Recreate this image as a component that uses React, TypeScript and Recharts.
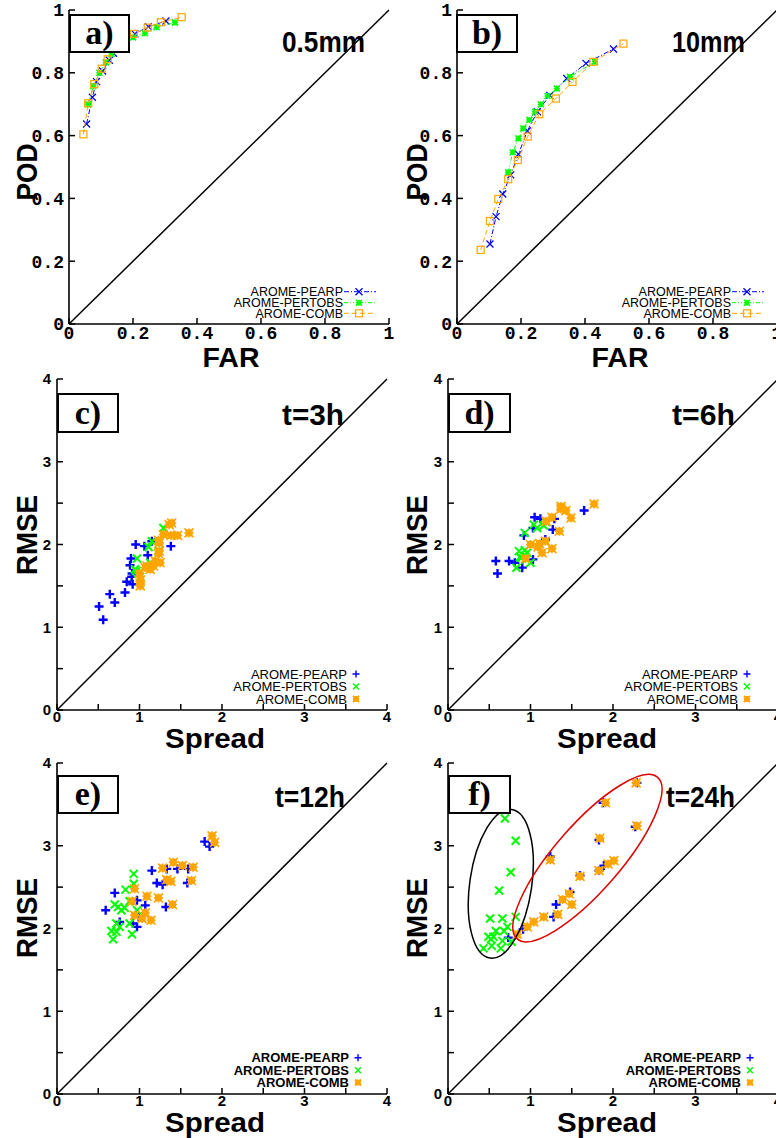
import React from 'react';
import { ScatterChart, Scatter, XAxis, YAxis, ReferenceLine, ReferenceDot } from 'recharts';

const BLUE = '#0000ff';
const GREEN = '#00ff00';
const ORANGE = '#ffa500';

const seriesNames = ['AROME-PEARP', 'AROME-PERTOBS', 'AROME-COMB'];

const rocTicks = [0, 0.2, 0.4, 0.6, 0.8, 1];
const spreadTicks = [0, 0.5, 1, 1.5, 2, 2.5, 3, 3.5, 4];

// a) POD / FAR, threshold 0.5mm
const rocA_pearp = [
  { x: 0.055, y: 0.637 }, { x: 0.073, y: 0.722 }, { x: 0.086, y: 0.772 }, { x: 0.105, y: 0.806 },
  { x: 0.126, y: 0.84 }, { x: 0.139, y: 0.862 }, { x: 0.206, y: 0.924 }, { x: 0.248, y: 0.947 },
  { x: 0.303, y: 0.965 },
];
const rocA_pertobs = [
  { x: 0.06, y: 0.7 }, { x: 0.076, y: 0.758 }, { x: 0.095, y: 0.8 }, { x: 0.115, y: 0.833 },
  { x: 0.133, y: 0.86 }, { x: 0.2, y: 0.913 }, { x: 0.237, y: 0.926 }, { x: 0.274, y: 0.945 },
  { x: 0.331, y: 0.96 },
];
const rocA_comb = [
  { x: 0.045, y: 0.604 }, { x: 0.06, y: 0.703 }, { x: 0.079, y: 0.764 }, { x: 0.102, y: 0.813 },
  { x: 0.121, y: 0.843 }, { x: 0.203, y: 0.924 }, { x: 0.246, y: 0.944 }, { x: 0.287, y: 0.961 },
  { x: 0.352, y: 0.977 },
];

// b) POD / FAR, threshold 10mm
const rocB_pearp = [
  { x: 0.103, y: 0.255 }, { x: 0.122, y: 0.342 }, { x: 0.143, y: 0.414 }, { x: 0.168, y: 0.475 },
  { x: 0.192, y: 0.541 }, { x: 0.22, y: 0.615 }, { x: 0.251, y: 0.676 }, { x: 0.29, y: 0.728 },
  { x: 0.343, y: 0.782 }, { x: 0.403, y: 0.83 }, { x: 0.489, y: 0.876 },
];
const rocB_pertobs = [
  { x: 0.16, y: 0.483 }, { x: 0.174, y: 0.547 }, { x: 0.192, y: 0.591 }, { x: 0.207, y: 0.623 },
  { x: 0.226, y: 0.65 }, { x: 0.244, y: 0.676 }, { x: 0.262, y: 0.7 }, { x: 0.283, y: 0.726 },
  { x: 0.312, y: 0.75 }, { x: 0.353, y: 0.787 }, { x: 0.431, y: 0.835 },
];
const rocB_comb = [
  { x: 0.074, y: 0.236 }, { x: 0.103, y: 0.328 }, { x: 0.129, y: 0.398 }, { x: 0.16, y: 0.461 },
  { x: 0.19, y: 0.522 }, { x: 0.221, y: 0.597 }, { x: 0.257, y: 0.668 }, { x: 0.309, y: 0.718 },
  { x: 0.361, y: 0.771 }, { x: 0.426, y: 0.835 }, { x: 0.52, y: 0.893 },
];

// c) RMSE / spread, t=3h
const c_pearp = [
  { x: 0.954, y: 2.0 }, { x: 1.06, y: 1.98 }, { x: 1.38, y: 1.98 }, { x: 0.897, y: 1.83 },
  { x: 1.1, y: 1.87 }, { x: 0.885, y: 1.75 }, { x: 0.91, y: 1.65 }, { x: 0.905, y: 1.61 },
  { x: 0.845, y: 1.55 }, { x: 0.917, y: 1.52 }, { x: 0.64, y: 1.4 }, { x: 0.824, y: 1.42 },
  { x: 0.7, y: 1.3 }, { x: 0.51, y: 1.25 }, { x: 0.56, y: 1.09 }, { x: 1.15, y: 2.04 },
];
const c_pertobs = [
  { x: 1.29, y: 2.2 }, { x: 1.15, y: 2.04 }, { x: 1.11, y: 1.97 }, { x: 0.97, y: 1.83 },
  { x: 1.23, y: 1.92 }, { x: 1.13, y: 1.78 }, { x: 0.945, y: 1.7 }, { x: 0.985, y: 1.65 },
  { x: 1.006, y: 1.61 }, { x: 0.96, y: 1.68 },
];
const c_comb = [
  { x: 1.39, y: 2.26 }, { x: 1.36, y: 2.24 }, { x: 1.29, y: 2.12 }, { x: 1.38, y: 2.11 },
  { x: 1.46, y: 2.11 }, { x: 1.6, y: 2.14 }, { x: 1.23, y: 2.05 }, { x: 1.24, y: 2.02 },
  { x: 1.24, y: 1.92 }, { x: 1.23, y: 1.89 }, { x: 1.25, y: 1.78 }, { x: 1.19, y: 1.8 },
  { x: 1.17, y: 1.74 }, { x: 1.09, y: 1.74 }, { x: 1.13, y: 1.7 }, { x: 1.07, y: 1.72 },
  { x: 1.01, y: 1.57 }, { x: 1.01, y: 1.5 }, { x: 1.0, y: 1.65 },
];

// d) t=6h
const d_pearp = [
  { x: 0.58, y: 1.8 }, { x: 0.6, y: 1.65 }, { x: 0.74, y: 1.8 }, { x: 0.81, y: 1.78 },
  { x: 0.9, y: 1.72 }, { x: 1.03, y: 1.82 }, { x: 0.92, y: 2.11 }, { x: 1.05, y: 2.33 },
  { x: 1.12, y: 2.31 }, { x: 1.03, y: 2.2 }, { x: 1.27, y: 2.18 }, { x: 1.29, y: 2.31 },
  { x: 1.65, y: 2.41 }, { x: 1.18, y: 2.06 },
];
const d_pertobs = [
  { x: 0.93, y: 2.14 }, { x: 1.04, y: 2.24 }, { x: 1.08, y: 2.2 }, { x: 1.16, y: 2.23 },
  { x: 1.19, y: 2.27 }, { x: 0.86, y: 1.92 }, { x: 0.93, y: 1.93 }, { x: 0.96, y: 1.9 },
  { x: 0.87, y: 1.85 }, { x: 0.89, y: 1.84 }, { x: 0.95, y: 1.82 }, { x: 1.0, y: 1.78 },
  { x: 0.83, y: 1.72 },
];
const d_comb = [
  { x: 1.37, y: 2.46 }, { x: 1.37, y: 2.43 }, { x: 1.43, y: 2.41 }, { x: 1.49, y: 2.32 },
  { x: 1.77, y: 2.49 }, { x: 1.26, y: 2.33 }, { x: 1.19, y: 2.28 }, { x: 1.35, y: 2.16 },
  { x: 1.18, y: 2.04 }, { x: 1.11, y: 2.01 }, { x: 1.0, y: 2.0 }, { x: 1.09, y: 1.97 },
  { x: 1.26, y: 1.95 }, { x: 1.14, y: 1.9 }, { x: 0.94, y: 1.83 },
];

// e) t=12h
const e_pearp = [
  { x: 1.79, y: 3.05 }, { x: 1.85, y: 2.99 }, { x: 1.15, y: 2.7 }, { x: 1.33, y: 2.72 },
  { x: 1.46, y: 2.72 }, { x: 1.59, y: 2.72 }, { x: 1.21, y: 2.55 }, { x: 1.28, y: 2.53 },
  { x: 1.58, y: 2.55 }, { x: 0.7, y: 2.43 }, { x: 0.97, y: 2.34 }, { x: 1.07, y: 2.28 },
  { x: 1.32, y: 2.26 }, { x: 0.59, y: 2.22 }, { x: 0.99, y: 2.14 }, { x: 0.76, y: 2.08 },
  { x: 0.92, y: 2.06 }, { x: 0.97, y: 2.02 },
];
const e_pertobs = [
  { x: 0.93, y: 2.66 }, { x: 0.93, y: 2.54 }, { x: 0.83, y: 2.47 }, { x: 0.7, y: 2.29 },
  { x: 0.74, y: 2.26 }, { x: 0.78, y: 2.22 }, { x: 0.82, y: 2.25 }, { x: 0.97, y: 2.22 },
  { x: 0.88, y: 2.33 }, { x: 0.72, y: 2.06 }, { x: 0.76, y: 2.02 }, { x: 0.66, y: 1.97 },
  { x: 0.72, y: 1.96 }, { x: 0.88, y: 2.06 }, { x: 0.91, y: 1.93 }, { x: 0.68, y: 1.87 },
];
const e_comb = [
  { x: 1.88, y: 3.12 }, { x: 1.91, y: 3.04 }, { x: 1.28, y: 2.73 }, { x: 1.41, y: 2.8 },
  { x: 1.52, y: 2.76 }, { x: 1.65, y: 2.74 }, { x: 1.33, y: 2.59 }, { x: 1.38, y: 2.57 },
  { x: 1.63, y: 2.58 }, { x: 0.94, y: 2.48 }, { x: 1.09, y: 2.39 }, { x: 1.23, y: 2.37 },
  { x: 0.91, y: 2.33 }, { x: 1.4, y: 2.29 }, { x: 1.07, y: 2.19 }, { x: 0.94, y: 2.16 },
  { x: 1.03, y: 2.12 }, { x: 1.14, y: 2.1 },
];

// f) t=24h
const f_pearp = [
  { x: 0.73, y: 1.89 }, { x: 0.91, y: 1.99 }, { x: 1.24, y: 2.87 }, { x: 1.31, y: 2.29 },
  { x: 1.28, y: 2.14 }, { x: 1.48, y: 2.44 }, { x: 1.6, y: 2.64 }, { x: 1.83, y: 3.07 },
  { x: 1.88, y: 3.52 }, { x: 1.83, y: 2.7 }, { x: 1.89, y: 2.76 }, { x: 2.27, y: 3.23 },
  { x: 2.29, y: 3.76 },
];
const f_pertobs = [
  { x: 0.69, y: 3.33 }, { x: 0.82, y: 3.06 }, { x: 0.76, y: 2.68 }, { x: 0.62, y: 2.46 },
  { x: 0.51, y: 2.12 }, { x: 0.66, y: 2.12 }, { x: 0.82, y: 2.14 }, { x: 0.72, y: 2.02 },
  { x: 0.58, y: 1.97 }, { x: 0.68, y: 1.97 }, { x: 0.49, y: 1.9 }, { x: 0.55, y: 1.9 },
  { x: 0.52, y: 1.87 }, { x: 0.66, y: 1.85 }, { x: 0.77, y: 1.84 }, { x: 0.43, y: 1.76 },
  { x: 0.53, y: 1.79 }, { x: 0.64, y: 1.76 },
];
const f_comb = [
  { x: 0.84, y: 1.93 }, { x: 0.96, y: 2.02 }, { x: 1.04, y: 2.08 }, { x: 1.16, y: 2.14 },
  { x: 1.33, y: 2.17 }, { x: 1.24, y: 2.83 }, { x: 1.5, y: 2.29 }, { x: 1.39, y: 2.35 },
  { x: 1.47, y: 2.42 }, { x: 1.6, y: 2.63 }, { x: 1.84, y: 3.09 }, { x: 1.91, y: 3.52 },
  { x: 1.83, y: 2.7 }, { x: 1.94, y: 2.78 }, { x: 2.01, y: 2.82 }, { x: 2.29, y: 3.24 },
  { x: 2.28, y: 3.76 },
];
// centres of the two groups circled in f)
const groupCentres = [
  { x: 0.64, y: 2.54 },
  { x: 1.69, y: 2.85 },
];

const TICK = 6;
const AXIS = { stroke: '#000', strokeWidth: 1.6 };
const MONO = { fontFamily: '"Liberation Mono", "DejaVu Sans Mono", monospace', fontWeight: 700, fontSize: 18 };
const SANS_B = { fontFamily: '"Liberation Sans", Arial, sans-serif', fontWeight: 700, fontSize: 15 };

const rocFmt = (v: number) => (v === 0 ? '0' : v === 1 ? '1' : v.toFixed(1));
const intFmt = (v: number) => (Number.isInteger(v) ? String(v) : null);

const bottomTick = (fmt: (v: number) => string | null, font: any, dy: number) => (p: any) => {
  const label = fmt(p.payload.value);
  return (
    <g>
      <line x1={p.x} x2={p.x} y1={p.y} y2={p.y - TICK} stroke="#000" strokeWidth={1.5} />
      {label !== null && (
        <text x={p.x} y={p.y + dy} textAnchor="middle" fill="#000" style={font}>{label}</text>
      )}
    </g>
  );
};

const leftTick = (fmt: (v: number) => string | null, font: any, gap: number) => (p: any) => {
  const label = fmt(p.payload.value);
  return (
    <g>
      <line x1={p.x} x2={p.x + TICK} y1={p.y} y2={p.y} stroke="#000" strokeWidth={1.5} />
      {label !== null && (
        <text x={p.x - gap} y={p.y} dy="0.36em" textAnchor="end" fill="#000" style={font}>{label}</text>
      )}
    </g>
  );
};

// markers
const crossMark = (color: string, r: number, w: number) => (p: any) => (
  <path d={`M${p.cx - r},${p.cy - r}L${p.cx + r},${p.cy + r}M${p.cx - r},${p.cy + r}L${p.cx + r},${p.cy - r}`}
    stroke={color} strokeWidth={w} fill="none" />
);
const plusMark = (color: string, r: number, w: number) => (p: any) => (
  <path d={`M${p.cx - r},${p.cy}L${p.cx + r},${p.cy}M${p.cx},${p.cy - r}L${p.cx},${p.cy + r}`}
    stroke={color} strokeWidth={w} fill="none" />
);
const starMark = (color: string, r: number, w: number) => (p: any) => (
  <path d={`M${p.cx - r},${p.cy}L${p.cx + r},${p.cy}M${p.cx},${p.cy - r}L${p.cx},${p.cy + r}M${p.cx - r},${p.cy - r}L${p.cx + r},${p.cy + r}M${p.cx - r},${p.cy + r}L${p.cx + r},${p.cy - r}`}
    stroke={color} strokeWidth={w} fill="none" />
);
const squareMark = (color: string, r: number, w: number) => (p: any) => (
  <rect x={p.cx - r} y={p.cy - r} width={2 * r} height={2 * r} stroke={color} strokeWidth={w} fill="none" />
);
const blobMark = (color: string, r: number) => (p: any) => (
  <g>
    <rect x={p.cx - r + 1} y={p.cy - r + 1} width={2 * r - 2} height={2 * r - 2} fill={color} />
    {starMark(color, r, 1.6)(p)}
  </g>
);

const rocLine = [
  { color: BLUE, dash: '5 2 1 2' },
  { color: GREEN, dash: '4 2 1 2 1 2' },
  { color: ORANGE, dash: '5 3' },
];
const rocMarks = [crossMark(BLUE, 3.5, 1.3), starMark(GREEN, 3, 1.6), squareMark(ORANGE, 3.5, 1.2)];
const sprMarks = [plusMark(BLUE, 4.5, 2.4), crossMark(GREEN, 4, 2), blobMark(ORANGE, 4.5)];

// room around the plot box so edge tick labels are not clipped
const PAD_TOP = 12;
const PAD_RIGHT = 14;

function Panel(props: any) {
  const { plotLeft, plotTop, plotW, plotH, yW, xH, domain, ticks, fmt, font, xDy, yGap, children } = props;
  const width = yW + plotW + PAD_RIGHT;
  const height = PAD_TOP + plotH + xH;
  return (
    <div style={{ position: 'absolute', left: plotLeft - yW, top: plotTop - PAD_TOP }}>
      <ScatterChart width={width} height={height} margin={{ top: PAD_TOP, right: PAD_RIGHT, bottom: 0, left: 0 }}>
        <XAxis xAxisId={0} type="number" dataKey="x" domain={domain} ticks={ticks} interval={0}
          allowDataOverflow height={xH} tickSize={0} tickMargin={0} tickLine={false} axisLine={AXIS}
          tick={bottomTick(fmt, font, xDy)} />
        <XAxis xAxisId="top" orientation="top" mirror type="number" domain={domain} ticks={ticks}
          interval={0} allowDataOverflow height={0} tick={false} tickSize={TICK}
          tickLine={{ stroke: '#000', strokeWidth: 1.5 }} axisLine={AXIS} />
        <YAxis yAxisId={0} type="number" dataKey="y" domain={domain} ticks={ticks} interval={0}
          allowDataOverflow width={yW} tickSize={0} tickMargin={0} tickLine={false} axisLine={AXIS}
          tick={leftTick(fmt, font, yGap)} />
        <YAxis yAxisId="right" orientation="right" mirror type="number" domain={domain} ticks={ticks}
          interval={0} allowDataOverflow width={0} tick={false} tickSize={TICK}
          tickLine={{ stroke: '#000', strokeWidth: 1.5 }} axisLine={AXIS} />
        <ReferenceLine segment={[{ x: domain[0], y: domain[0] }, { x: domain[1], y: domain[1] }]}
          stroke="#000" strokeWidth={1.5} ifOverflow="visible" />
        {children}
      </ScatterChart>
    </div>
  );
}

function RocPanel({ plotLeft, series }: any) {
  return (
    <Panel plotLeft={plotLeft} plotTop={10} plotW={320} plotH={314} yW={69} xH={30}
      domain={[0, 1]} ticks={rocTicks} fmt={rocFmt} font={MONO} xDy={15} yGap={5}>
      {series.map((d: any, i: number) => (
        <Scatter key={seriesNames[i]} name={seriesNames[i]} data={d} isAnimationActive={false}
          shape={rocMarks[i]}
          line={{ stroke: rocLine[i].color, strokeWidth: 1, strokeDasharray: rocLine[i].dash }} />
      ))}
    </Panel>
  );
}

function SpreadPanel({ plotLeft, plotTop, series, extra }: any) {
  return (
    <Panel plotLeft={plotLeft} plotTop={plotTop} plotW={330} plotH={331} yW={57} xH={22}
      domain={[0, 4]} ticks={spreadTicks} fmt={intFmt} font={SANS_B} xDy={12} yGap={6}>
      {series.map((d: any, i: number) => (
        <Scatter key={seriesNames[i]} name={seriesNames[i]} data={d} isAnimationActive={false}
          shape={sprMarks[i]} />
      ))}
      {extra}
    </Panel>
  );
}

const SANS = '"Liberation Sans", Arial, Helvetica, sans-serif';

function LabelBox({ x, y, w, h, text }: any) {
  return (
    <g>
      <rect x={x} y={y} width={w} height={h} fill="#fff" stroke="#000" strokeWidth={2} />
      <text x={x + w / 2} y={y + h - 8} textAnchor="middle" fill="#000"
        style={{ fontFamily: '"Liberation Serif", "Times New Roman", serif', fontWeight: 700, fontSize: 34 }}>
        {text}
      </text>
    </g>
  );
}

function Title({ x, y, w, text }: any) {
  return (
    <text x={x} y={y} textLength={w} lengthAdjust="spacingAndGlyphs" fill="#000"
      style={{ fontFamily: SANS, fontWeight: 700, fontSize: 30 }}>{text}</text>
  );
}

function XTitle({ cx, y, w, text }: any) {
  return (
    <text x={cx - w / 2} y={y} textLength={w} lengthAdjust="spacingAndGlyphs" fill="#000"
      style={{ fontFamily: SANS, fontWeight: 700, fontSize: 28 }}>{text}</text>
  );
}

function YTitle({ x, cy, w, text }: any) {
  return (
    <text x={x} y={cy + w / 2} transform={`rotate(-90 ${x} ${cy + w / 2})`} textLength={w}
      lengthAdjust="spacingAndGlyphs" fill="#000"
      style={{ fontFamily: SANS, fontWeight: 700, fontSize: 30 }}>{text}</text>
  );
}

function RocLegend({ right, rows }: any) {
  return (
    <g>
      {seriesNames.map((n, i) => (
        <g key={n}>
          <text x={right} y={rows[i] + 4.3} textAnchor="end" fill="#000"
            style={{ fontFamily: SANS, fontSize: 12.5 }}>{n}</text>
          <line x1={right + 1} x2={right + 33} y1={rows[i]} y2={rows[i]} stroke={rocLine[i].color}
            strokeWidth={1} strokeDasharray={rocLine[i].dash} />
          {rocMarks[i]({ cx: right + 16, cy: rows[i] })}
        </g>
      ))}
    </g>
  );
}

const legendMarks = [plusMark(BLUE, 3.5, 1.4), crossMark(GREEN, 3, 1.4), starMark(ORANGE, 3, 2)];

function SpreadLegend({ right, rows, bold }: any) {
  return (
    <g>
      {seriesNames.map((n, i) => (
        <g key={n}>
          <text x={right} y={rows[i] + 4.7} textAnchor="end" fill="#000"
            style={{ fontFamily: SANS, fontSize: 13, fontWeight: bold ? 700 : 400 }}>{n}</text>
          {legendMarks[i]({ cx: right + 9, cy: rows[i] })}
        </g>
      ))}
    </g>
  );
}

const ellipseShape = (rx: number, ry: number, angle: number, color: string) => (p: any) => (
  <ellipse cx={p.cx} cy={p.cy} rx={rx} ry={ry} transform={`rotate(${angle} ${p.cx} ${p.cy})`}
    fill="none" stroke={color} strokeWidth={1.5} />
);

export default function App() {
  const ellipses = [
    <ReferenceDot key="g1" x={groupCentres[0].x} y={groupCentres[0].y} r={1} ifOverflow="visible"
      shape={ellipseShape(31, 75, 8.3, '#000')} />,
    <ReferenceDot key="g2" x={groupCentres[1].x} y={groupCentres[1].y} r={1} ifOverflow="visible"
      shape={ellipseShape(107, 33, -49, '#e00000')} />,
  ];
  return (
    <div style={{ position: 'absolute', left: 0, top: 0, width: 776, height: 1138, overflow: 'hidden', background: '#fff' }}>
      <RocPanel plotLeft={69} series={[rocA_pearp, rocA_pertobs, rocA_comb]} />
      <RocPanel plotLeft={457} series={[rocB_pearp, rocB_pertobs, rocB_comb]} />
      <SpreadPanel plotLeft={57} plotTop={379} series={[c_pearp, c_pertobs, c_comb]} />
      <SpreadPanel plotLeft={448} plotTop={379} series={[d_pearp, d_pertobs, d_comb]} />
      <SpreadPanel plotLeft={57} plotTop={763} series={[e_pearp, e_pertobs, e_comb]} />
      <SpreadPanel plotLeft={448} plotTop={763} series={[f_pearp, f_pertobs, f_comb]} extra={ellipses} />

      <svg width={776} height={1138} style={{ position: 'absolute', left: 0, top: 0, pointerEvents: 'none' }}>
        <LabelBox x={70} y={15} w={59} h={37} text="a)" />
        <LabelBox x={457} y={15} w={60} h={37} text="b)" />
        <LabelBox x={58} y={394} w={60} h={38} text="c)" />
        <LabelBox x={449} y={394} w={61} h={38} text="d)" />
        <LabelBox x={58} y={776} w={60} h={37} text="e)" />
        <LabelBox x={449} y={776} w={61} h={37} text="f)" />

        <Title x={282} y={52} w={83} text="0.5mm" />
        <Title x={672} y={52} w={73} text="10mm" />
        <Title x={282} y={425} w={62} text="t=3h" />
        <Title x={672} y={425} w={63} text="t=6h" />
        <Title x={275} y={807} w={70} text="t=12h" />
        <Title x={666} y={807} w={69} text="t=24h" />

        <YTitle x={37} cy={172} w={57} text="POD" />
        <YTitle x={427} cy={172} w={57} text="POD" />
        <XTitle cx={231} y={367} w={57} text="FAR" />
        <XTitle cx={620} y={367} w={57} text="FAR" />
        <YTitle x={37} cy={535} w={80} text="RMSE" />
        <YTitle x={427} cy={535} w={80} text="RMSE" />
        <YTitle x={37} cy={918} w={80} text="RMSE" />
        <YTitle x={427} cy={918} w={80} text="RMSE" />
        <XTitle cx={215} y={748} w={100} text="Spread" />
        <XTitle cx={607} y={748} w={100} text="Spread" />
        <XTitle cx={215} y={1132} w={100} text="Spread" />
        <XTitle cx={607} y={1132} w={100} text="Spread" />

        <RocLegend right={343} rows={[291.7, 302.7, 313.3]} />
        <RocLegend right={731} rows={[291.7, 302.7, 313.3]} />
        <SpreadLegend right={347} rows={[674, 686.5, 699]} />
        <SpreadLegend right={738} rows={[674, 686.5, 699]} />
        <SpreadLegend right={349} rows={[1057.7, 1070.3, 1082.5]} bold />
        <SpreadLegend right={741} rows={[1057.7, 1070.3, 1082.5]} bold />
      </svg>
    </div>
  );
}
